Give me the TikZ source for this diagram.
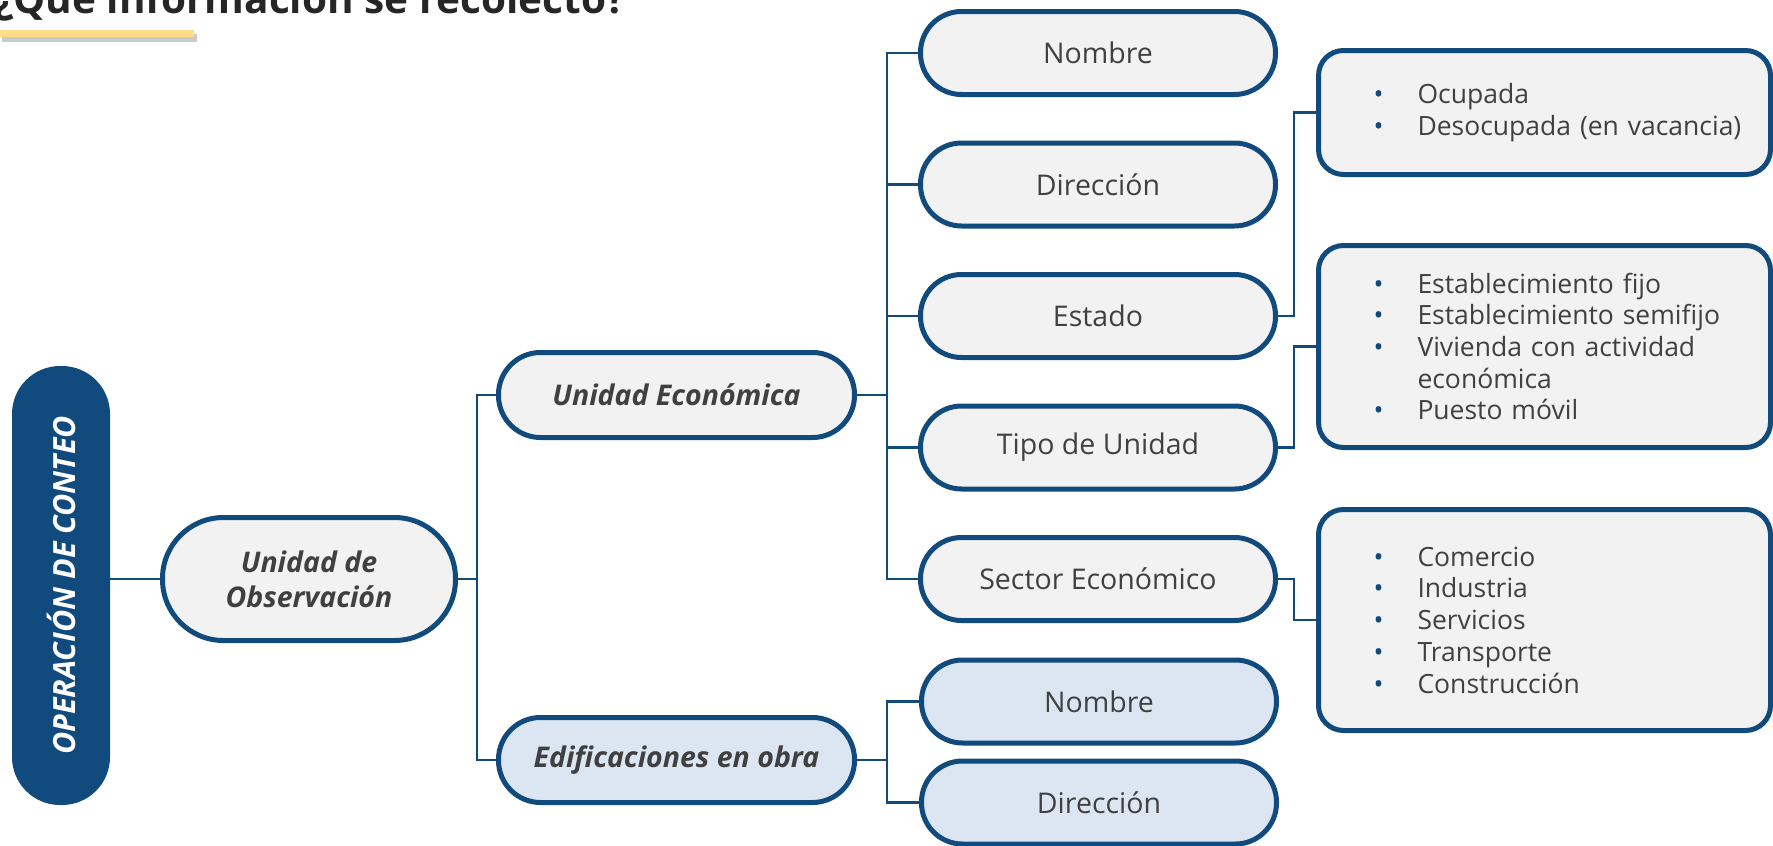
\documentclass[tikz,border=0pt]{standalone}
\usepackage{fontspec}
\setmainfont{Open Sans}
\usetikzlibrary{positioning}
\definecolor{conteoblue}{RGB}{17,74,124}
\definecolor{conteogrey}{RGB}{242,242,242}
\definecolor{conteosky}{RGB}{220,230,242}
\definecolor{conteotext}{RGB}{64,64,64}
\definecolor{conteogold}{RGB}{255,222,137}
\newcommand{\bul}[1]{\hspace*{55pt}\makebox[44pt][l]{\textcolor{conteoblue}{\textbullet}}#1}

\begin{document}
\begin{tikzpicture}[x=1pt, y=-1pt,
      node distance=43.5pt and 30pt,
      pill/.style={rectangle, rounded corners=41pt, draw=conteoblue, fill=conteogrey,
                   line width=5pt, minimum width=355pt, minimum height=83pt, inner sep=0pt,
                   text=conteotext, font=\fontsize{28.5}{34}\selectfont},
      head/.style={pill, minimum width=356pt, minimum height=85pt, rounded corners=42pt,
                   font=\bfseries\itshape\fontsize{28.5}{35}\selectfont, align=center},
      listbox/.style={rectangle, rounded corners=25pt, draw=conteoblue, fill=conteogrey,
                      line width=5pt, inner sep=0pt, text width=452pt, align=left,
                      text=conteotext, font=\fontsize{26.5}{31.7}\selectfont},
      conn/.style={draw=conteoblue, line width=2.5pt}]
    \useasboundingbox (0,0) rectangle (1773,846);
    % title, cut by the top edge
    \node[anchor=base west, inner sep=0pt, text=black!85,
          font=\bfseries\fontsize{40.5}{48}\selectfont] (title) at (-6,13) {¿Que información se recolectó?};
    \fill[black!35, opacity=.6] (2,34) rectangle (197,42);
    \fill[conteogold] (0,30) rectangle (194,37);
    % root and first level
    \node[rectangle, rounded corners=48pt, fill=conteoblue, rotate=90, minimum width=439pt,
          minimum height=98pt, inner sep=0pt, text=white,
          font=\bfseries\itshape\fontsize{30.5}{36}\selectfont] (conteo) at (61,585.5) {OPERACIÓN DE CONTEO};
    \node[head, minimum width=293pt, minimum height=123pt, rounded corners=61pt] (obs) at (309,579)
          {Unidad de\\ Observación};
    \node[head] (ue) at (676.5,395) {Unidad Económica};
    \node[head, fill=conteosky] (ed) at (676.5,760) {Edificaciones en obra};
    % second level
    \node[pill] (nombre) at (1098,53) {Nombre};
    \node[pill, below=of nombre] (direccion) {Dirección};
    \node[pill, below=of direccion] (estado) {Estado};
    \node[pill, below=of estado] (tipo) {Tipo de Unidad};
    \node[pill, below=of tipo] (sector) {Sector Económico};
    \node[pill, fill=conteosky] (ednombre) at (1099,701.5) {Nombre};
    \node[pill, fill=conteosky, below=13pt of ednombre] (eddireccion) {Dirección};
    % third level
    \node[listbox, minimum height=124pt] (ocup) at (1544.5,112.5)
          {\bul{Ocupada}\\ \bul{Desocupada (en vacancia)}};
    \node[listbox, minimum height=202pt] (tipos) at (1544.5,346.5)
          {\bul{Establecimiento fijo}\\ \bul{Establecimiento semifijo}\\
           \bul{Vivienda con actividad}\\ \hspace*{99pt}económica\\ \bul{Puesto móvil}};
    \node[listbox, minimum height=221pt] (sectores) at (1544.5,620)
          {\bul{Comercio}\\ \bul{Industria}\\ \bul{Servicios}\\ \bul{Transporte}\\ \bul{Construcción}};
    % connectors
    \coordinate[right=19pt of obs] (j1);
    \coordinate[right=30pt of ue] (j2);
    \coordinate[right=30pt of ed] (j3);
    \draw[conn] (conteo.south |- obs.west) -- (obs.west);
    \draw[conn] (obs.east) -- (j1);
    \draw[conn] (ue.west) -| (j1) |- (ed.west);
    \draw[conn] (ue.east) -- (j2);
    \draw[conn] (nombre.west) -| (j2) |- (sector.west);
    \draw[conn] (direccion.west) -- (direccion.west -| j2);
    \draw[conn] (estado.west) -- (estado.west -| j2);
    \draw[conn] (tipo.west) -- (tipo.west -| j2);
    \draw[conn] (ed.east) -- (j3);
    \draw[conn] (ednombre.west) -| (j3) |- (eddireccion.west);
    \draw[conn] (estado.east) -- ++(16,0) |- (ocup.west);
    \draw[conn] (tipo.east) -- ++(16,0) |- (tipos.west);
    \draw[conn] (sector.east) -- ++(16,0) |- (sectores.west);
  \end{tikzpicture}
\end{document}
